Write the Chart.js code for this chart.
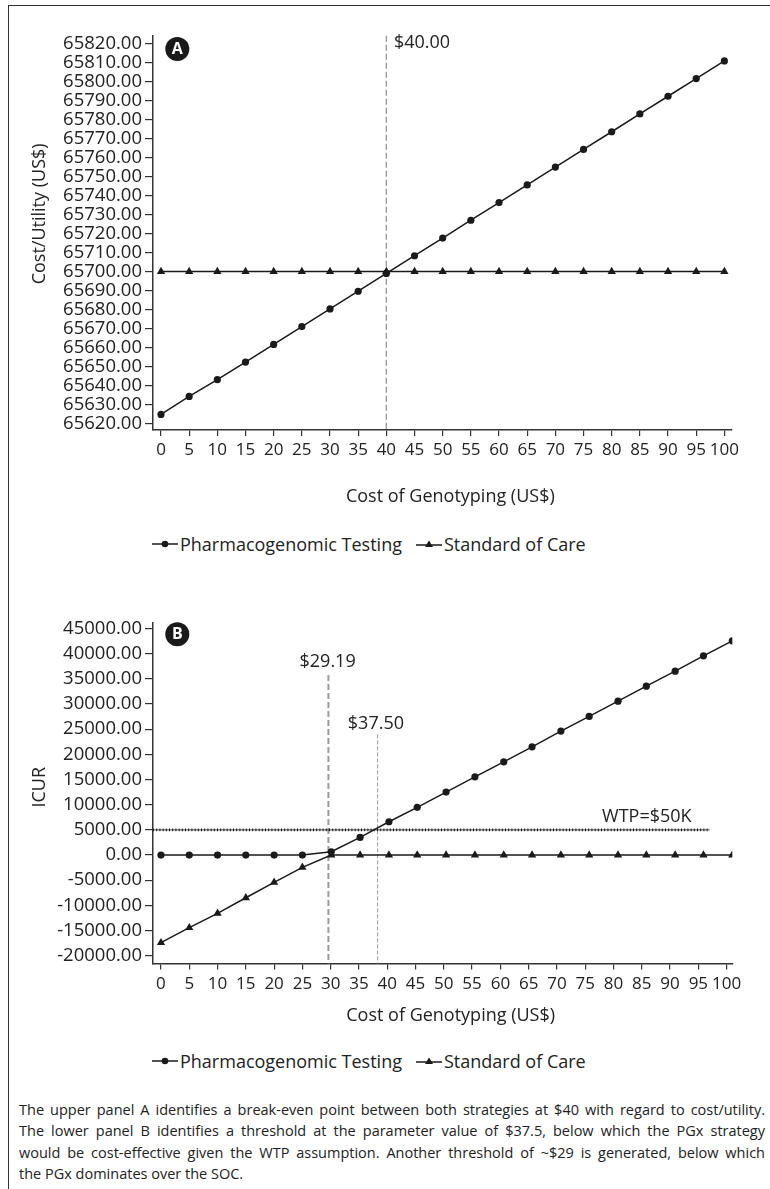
<!DOCTYPE html>
<html lang="en">
<head>
  <meta charset="UTF-8" />
  <title>Cost of Genotyping sensitivity</title>
  <script src="https://cdn.jsdelivr.net/npm/chart.js"></script>
  <style>
    html, body { margin: 0; padding: 0; background: #fff; }
    body { width: 770px; height: 1189px; position: relative; overflow: hidden; font-family: 'Open Sans', sans-serif; color: #222; }
    .frame { position: absolute; left: 8px; top: 5px; width: 800px; height: 1300px; border: 1.5px solid #333; box-sizing: border-box; }
    .panel { position: absolute; left: 0; width: 770px; }
    .legend { position: absolute; left: 152px; display: flex; align-items: center; font-size: 18px; line-height: 22px; white-space: nowrap; }
    .legend .item { display: flex; align-items: center; }
    .legend .item + .item { margin-left: 14px; }
    .legend svg { margin-right: 2px; }
    .caption { position: absolute; left: 19px; width: 746px; top: 1099px; font-size: 14.5px; line-height: 21.3px; }
    .caption div { white-space: nowrap; text-align: justify; text-align-last: justify; }
    .caption div.last { text-align-last: left; }
  </style>
</head>
<body>
  <div class="frame"></div>

  <!-- Panel A -->
  <div class="panel" style="top:0; height:510px;"><canvas id="chartA"></canvas></div>
  <div class="legend" style="top:533px;">
    <span class="item">
      <svg width="26" height="12"><line x1="0" y1="6" x2="26" y2="6" stroke="#1a1a1a" stroke-width="1.5"/><circle cx="13" cy="6" r="3.3" fill="#1a1a1a"/></svg>
      Pharmacogenomic Testing
    </span>
    <span class="item">
      <svg width="26" height="12"><line x1="0" y1="7" x2="26" y2="7" stroke="#1a1a1a" stroke-width="1.5"/><polygon points="13,2.5 17,9 9,9" fill="#1a1a1a"/></svg>
      Standard of Care
    </span>
  </div>

  <!-- Panel B -->
  <div class="panel" style="top:590px; height:450px;"><canvas id="chartB"></canvas></div>
  <div class="legend" style="top:1050px;">
    <span class="item">
      <svg width="26" height="12"><line x1="0" y1="6" x2="26" y2="6" stroke="#1a1a1a" stroke-width="1.5"/><circle cx="13" cy="6" r="3.3" fill="#1a1a1a"/></svg>
      Pharmacogenomic Testing
    </span>
    <span class="item">
      <svg width="26" height="12"><line x1="0" y1="7" x2="26" y2="7" stroke="#1a1a1a" stroke-width="1.5"/><polygon points="13,2.5 17,9 9,9" fill="#1a1a1a"/></svg>
      Standard of Care
    </span>
  </div>

  <div class="caption">
    <div>The upper panel A identifies a break-even point between both strategies at $40 with regard to cost/utility.</div>
    <div>The lower panel B identifies a threshold at the parameter value of $37.5, below which the PGx strategy</div>
    <div>would be cost-effective given the WTP assumption. Another threshold of ~$29 is generated, below which</div>
    <div class="last">the PGx dominates over the SOC.</div>
  </div>

  <script>
    // x axis (cost of genotyping) tick labels, shared by both panels
    const COST_TICKS = [0, 5, 10, 15, 20, 25, 30, 35, 40, 45, 50, 55, 60, 65, 70, 75, 80, 85, 90, 95, 100];

    // Panel A - cost/utility
    const COST_A = [0, 5, 10, 15, 20, 25, 30, 35, 40, 45, 50, 55, 60, 65, 70, 75, 80, 85, 90, 95, 100];
    const PGX_A = [65624.7, 65634.2, 65643.0, 65652.3, 65661.6, 65671.0, 65680.3, 65689.6, 65699.0, 65708.3,
                   65717.6, 65727.0, 65736.3, 65745.6, 65755.0, 65764.3, 65773.6, 65783.0, 65792.3, 65801.6, 65810.9];
    const SOC_A = [65700, 65700, 65700, 65700, 65700, 65700, 65700, 65700, 65700, 65700,
                   65700, 65700, 65700, 65700, 65700, 65700, 65700, 65700, 65700, 65700, 65700];
    const UTIL_TICKS = [65620, 65630, 65640, 65650, 65660, 65670, 65680, 65690, 65700, 65710, 65720,
                        65730, 65740, 65750, 65760, 65770, 65780, 65790, 65800, 65810, 65820];

    // Panel B - ICUR
    const COST_B = [0, 5.0, 10.0, 15.0, 20.0, 25.0, 30.1, 35.2, 40.3, 45.3, 50.4,
                    55.5, 60.6, 65.6, 70.7, 75.7, 80.8, 85.8, 90.9, 95.9, 101.0];
    const PGX_B = [0, 0, 0, 0, 0, 0, 650, 3510, 6610, 9470, 12510,
                   15540, 18520, 21500, 24620, 27540, 30570, 33550, 36530, 39570, 42550];
    const SOC_B = [-17410, -14430, -11570, -8480, -5420, -2440, 0, 0, 0, 0, 0,
                   0, 0, 0, 0, 0, 0, 0, 0, 0, 0];
    const ICUR_TICKS = [-20000, -15000, -10000, -5000, 0, 5000, 10000, 15000, 20000,
                        25000, 30000, 35000, 40000, 45000];
    const WTP = 5000;

    Chart.defaults.font.family = "'Open Sans', sans-serif";
    Chart.defaults.color = '#222';

    const INK = '#1a1a1a';
    const AXIS = '#333';

    // reference lines, panel letter and axis titles
    const decor = {
      id: 'decor',
      beforeDatasetsDraw(chart, args, o) {
        const { ctx, chartArea: ca, scales: { x, y } } = chart;
        ctx.save();
        (o.vlines || []).forEach(v => {
          const px = x.getPixelForValue(v.at);
          const top = v.top != null ? y.getPixelForValue(v.top) : ca.top;
          ctx.strokeStyle = v.color;
          ctx.lineWidth = v.width;
          ctx.setLineDash(v.dash);
          ctx.beginPath();
          ctx.moveTo(px, top);
          ctx.lineTo(px, ca.bottom);
          ctx.stroke();
          ctx.setLineDash([]);
          ctx.fillStyle = '#222';
          ctx.font = "18px 'Open Sans'";
          ctx.textAlign = v.align;
          ctx.textBaseline = 'middle';
          ctx.fillText(v.text, px + v.dx, top + v.dy);
        });
        if (o.hline) {
          const h = o.hline;
          const py = y.getPixelForValue(h.at);
          const x2 = x.getPixelForValue(h.to);
          ctx.strokeStyle = INK;
          ctx.lineWidth = 0.8;
          ctx.beginPath();
          ctx.moveTo(ca.left, py);
          ctx.lineTo(x2, py);
          ctx.stroke();
          ctx.lineWidth = 2.6;
          ctx.setLineDash([1, 2.2]);
          ctx.beginPath();
          ctx.moveTo(ca.left, py);
          ctx.lineTo(x2, py);
          ctx.stroke();
          ctx.setLineDash([]);
          ctx.fillStyle = '#222';
          ctx.font = "18px 'Open Sans'";
          ctx.textAlign = 'right';
          ctx.textBaseline = 'middle';
          ctx.fillText(h.text, x.getPixelForValue(h.textAt), py + h.dy);
        }
        ctx.restore();
      },
      afterDraw(chart, args, o) {
        const { ctx, chartArea: ca } = chart;
        ctx.save();
        // circled panel letter
        const cx = ca.left + 24.3, cy = ca.top + o.letterDy;
        ctx.fillStyle = INK;
        ctx.beginPath();
        ctx.arc(cx, cy, 12, 0, Math.PI * 2);
        ctx.fill();
        ctx.fillStyle = '#fff';
        ctx.font = "bold 16px 'Open Sans'";
        ctx.textAlign = 'center';
        ctx.textBaseline = 'middle';
        ctx.fillText(o.letter, cx, cy + 0.5);
        // axis titles
        ctx.fillStyle = '#222';
        ctx.font = "18px 'Open Sans'";
        ctx.fillText(o.xTitle, (ca.left + ca.right) / 2 + 8, ca.bottom + o.xTitleDy);
        ctx.translate(40, (ca.top + ca.bottom) / 2 + o.yTitleDy);
        ctx.rotate(-Math.PI / 2);
        ctx.fillText(o.yTitle, 0, 0);
        ctx.restore();
      }
    };

    function series(label, xs, ys, style, radius) {
      return {
        label: label,
        data: xs.map((c, i) => ({ x: c, y: ys[i] })),
        borderColor: INK,
        backgroundColor: INK,
        borderWidth: 1.5,
        pointStyle: style,
        pointRadius: radius,
        pointBorderWidth: 0,
        pointHoverRadius: radius,
        tension: 0
      };
    }

    function makeChart(id, opts) {
      return new Chart(document.getElementById(id), {
        type: 'line',
        data: {
          datasets: [
            series('Standard of Care', opts.xs, opts.soc, 'triangle', 4.8),
            series('Pharmacogenomic Testing', opts.xs, opts.pgx, 'circle', 3.6)
          ]
        },
        options: {
          responsive: true,
          maintainAspectRatio: false,
          animation: false,
          events: [],
          layout: { padding: { top: opts.padTop, right: opts.padRight, left: 0, bottom: 0 } },
          plugins: {
            legend: { display: false },
            tooltip: { enabled: false },
            decor: opts.decor
          },
          scales: {
            x: {
              type: 'linear',
              min: opts.xMin,
              max: opts.xMax,
              afterBuildTicks: s => { s.ticks = COST_TICKS.map(v => ({ value: v })); },
              afterFit: s => { s.height = opts.xHeight; },
              ticks: { autoSkip: false, maxRotation: 0, minRotation: 0, padding: 4, font: { size: 17 }, color: '#222' },
              grid: { display: true, drawOnChartArea: false, drawTicks: true, tickLength: 6, color: AXIS, lineWidth: 1.2 },
              border: { display: true, color: AXIS, width: 1.5 }
            },
            y: {
              min: opts.yMin,
              max: opts.yMax,
              afterBuildTicks: s => { s.ticks = opts.yTicks.map(v => ({ value: v })); },
              afterFit: s => { s.width = 153; },
              ticks: {
                autoSkip: false,
                padding: 3,
                font: { size: 18.5, lineHeight: 1 },
                color: '#222',
                callback: v => Number(v).toFixed(2)
              },
              grid: { display: true, drawOnChartArea: false, drawTicks: true, tickLength: 8, color: AXIS, lineWidth: 1.2 },
              border: { display: true, color: AXIS, width: 1.5 }
            }
          }
        },
        plugins: [decor]
      });
    }

    makeChart('chartA', {
      xs: COST_A, pgx: PGX_A, soc: SOC_A, yTicks: UTIL_TICKS,
      xMin: -1.42, xMax: 101.3, yMin: 65616.5, yMax: 65824.2,
      padTop: 35.7, padRight: 38.3, xHeight: 80,
      decor: {
        letter: 'A', letterDy: 13.3,
        vlines: [{ at: 40, top: null, color: '#9a9a9a', width: 1.4, dash: [6, 3], text: '$40.00', align: 'left', dx: 7.6, dy: 7.6 }],
        xTitle: 'Cost of Genotyping (US$)', xTitleDy: 67,
        yTitle: 'Cost/Utility (US$)', yTitleDy: -19
      }
    });

    makeChart('chartB', {
      xs: COST_B, pgx: PGX_B, soc: SOC_B, yTicks: ICUR_TICKS,
      xMin: -1.41, xMax: 101, yMin: -21540, yMax: 46090,
      padTop: 33, padRight: 37.7, xHeight: 76.5,
      decor: {
        letter: 'B', letterDy: 11.3,
        vlines: [
          { at: 29.6, top: 35740, color: '#9a9a9a', width: 2, dash: [6, 3], text: '$29.19', align: 'center', dx: -0.8, dy: -13.3 },
          { at: 38.3, top: 23960, color: '#9a9a9a', width: 1, dash: [4, 2], text: '$37.50', align: 'center', dx: -1.7, dy: -10.3 }
        ],
        hline: { at: WTP, to: 97, text: 'WTP=$50K', textAt: 93.8, dy: -13 },
        xTitle: 'Cost of Genotyping (US$)', xTitleDy: 52,
        yTitle: 'ICUR', yTitleDy: -6
      }
    });
  </script>
</body>
</html>
